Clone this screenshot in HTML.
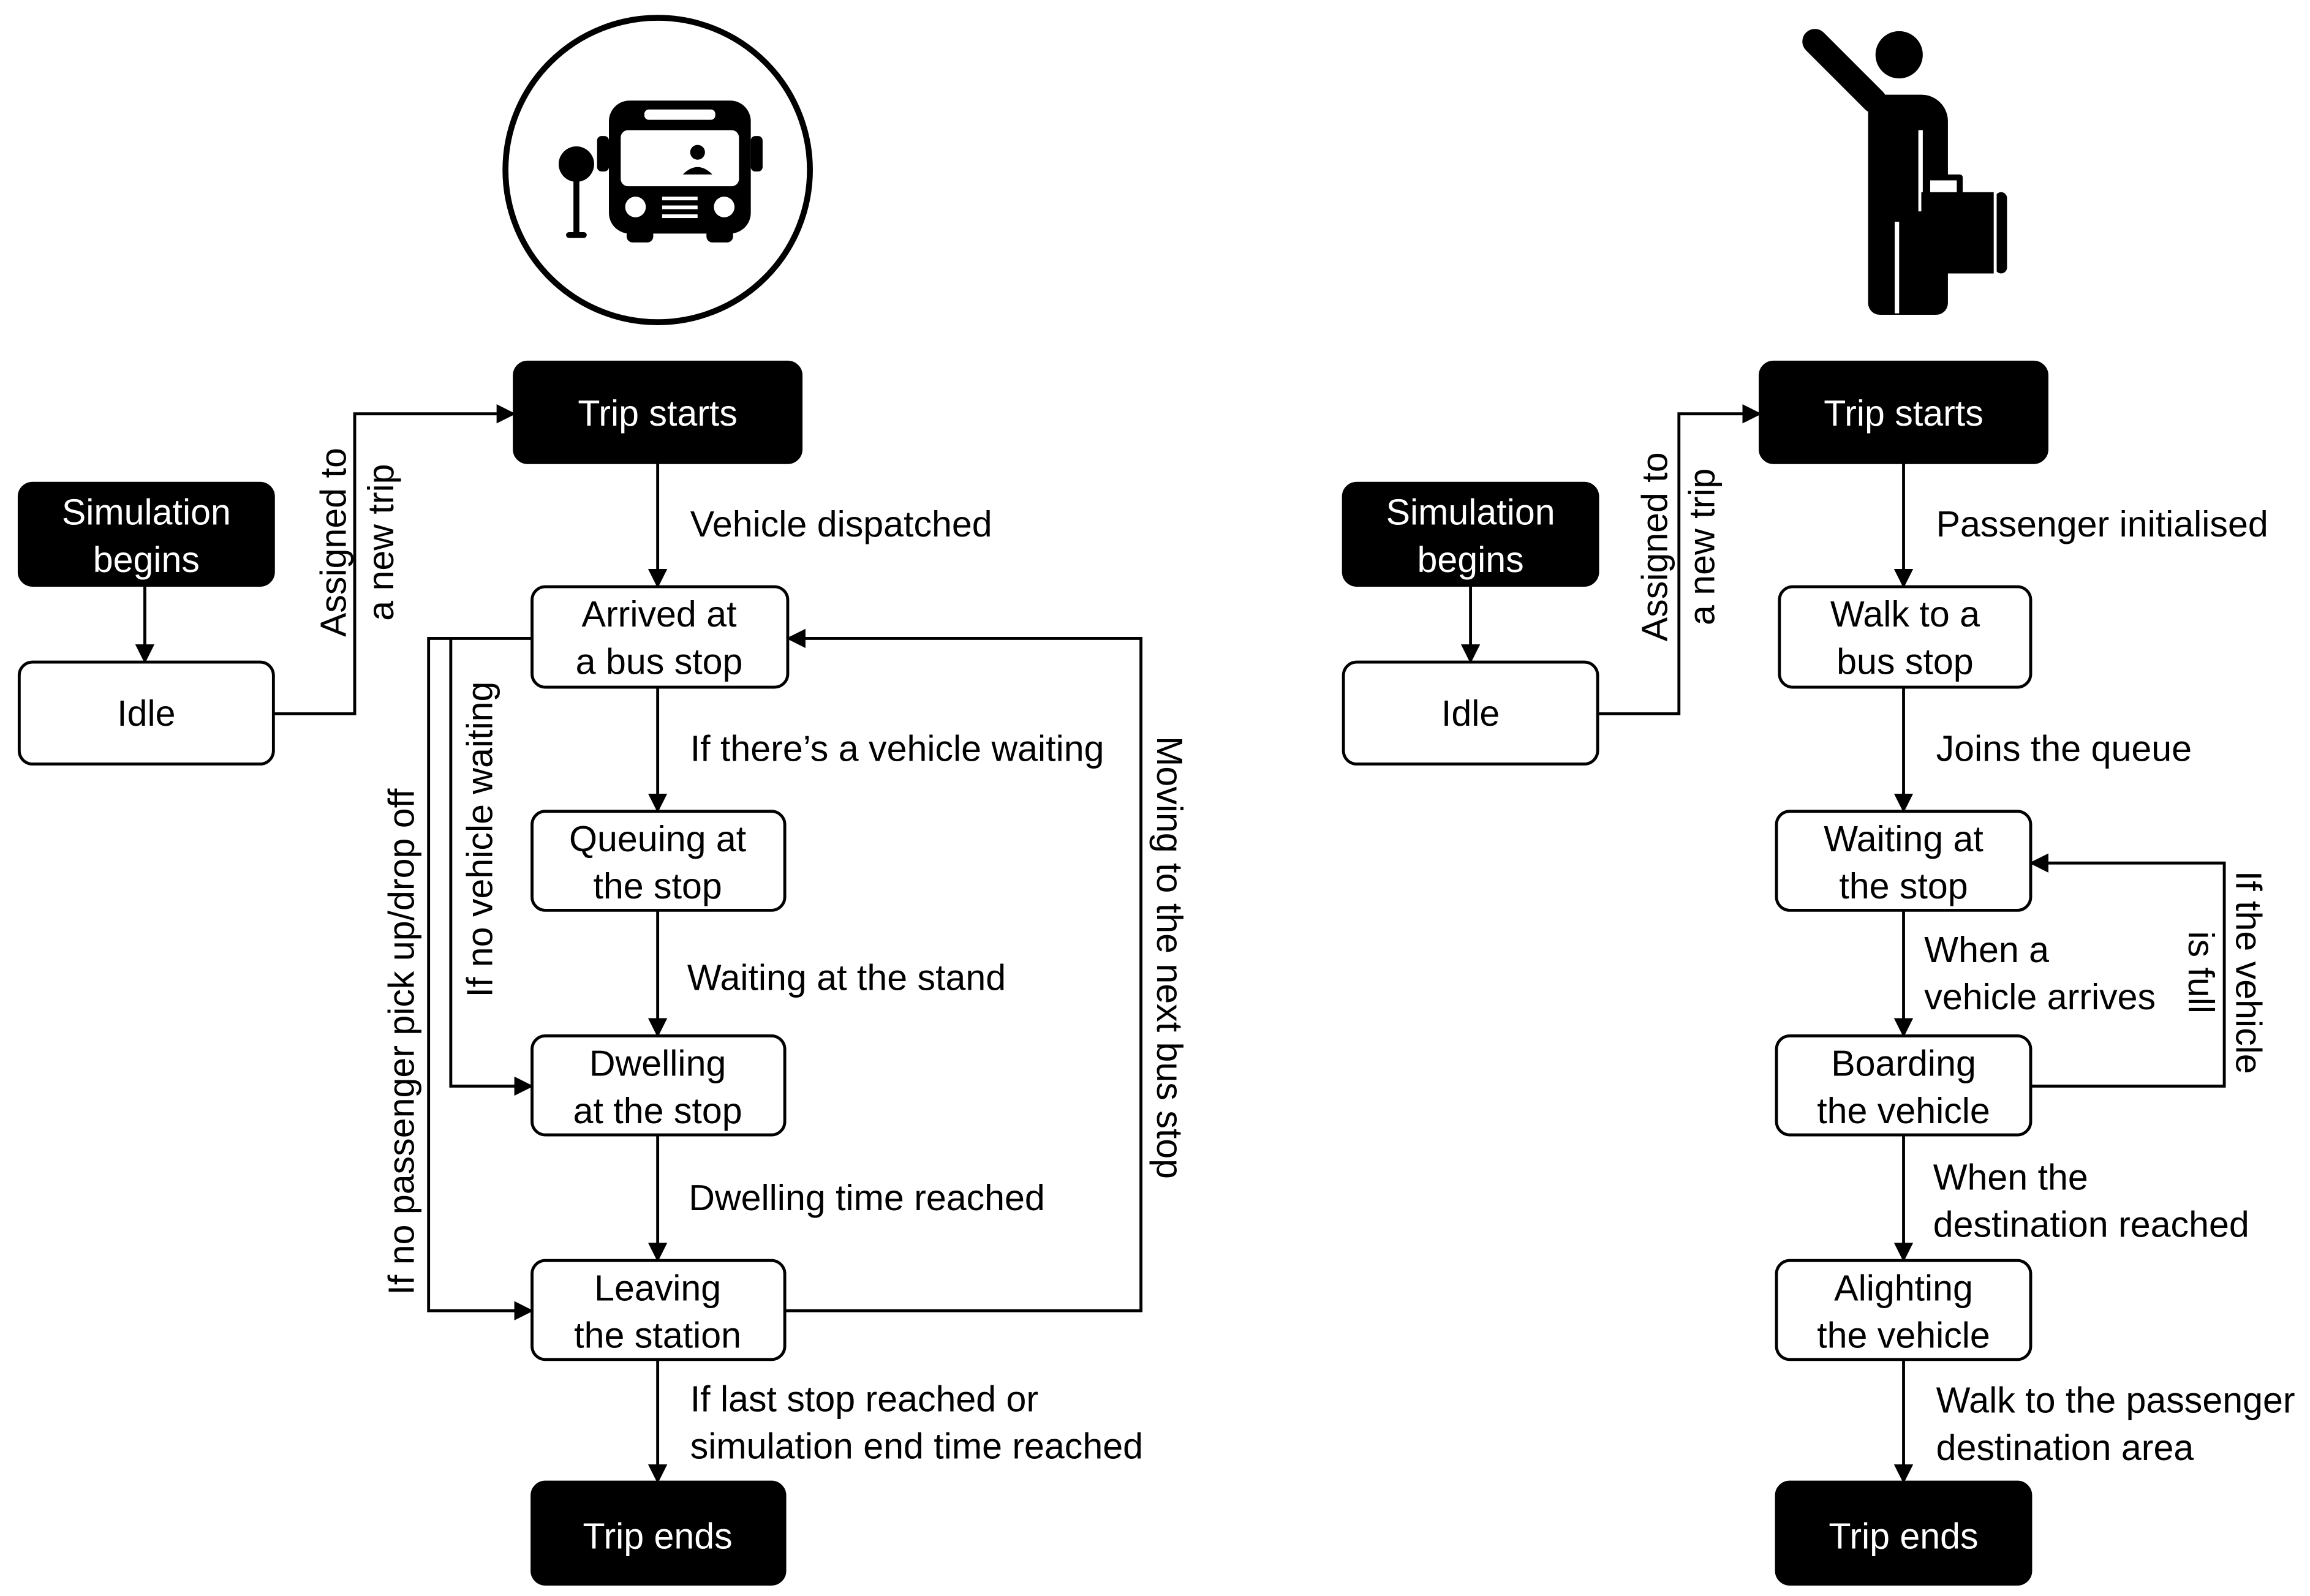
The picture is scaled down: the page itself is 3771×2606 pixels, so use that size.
<!DOCTYPE html>
<html><head><meta charset="utf-8"><style>html,body{margin:0;padding:0;background:#fff}svg{display:block}</style></head>
<body>
<svg width="3771" height="2606" viewBox="0 0 1563 1080" xmlns="http://www.w3.org/2000/svg" font-family="Liberation Sans, sans-serif" font-size="24.5">
<defs><marker id="a" markerWidth="13" markerHeight="13" refX="12" refY="6.5" orient="auto" markerUnits="userSpaceOnUse" viewBox="0 0 13 13"><path d="M0,0 L13,6.5 L0,13 z" fill="#000"/></marker></defs>
<rect width="1563" height="1080" fill="#fff"/>
<!-- bus icon -->
<ellipse cx="445" cy="115" rx="103" ry="103" fill="none" stroke="#000" stroke-width="4"/>
<circle cx="390" cy="111" r="12" fill="#000"/>
<rect x="388" y="115" width="4" height="44" fill="#000"/>
<rect x="383" y="157" width="14" height="4" rx="2" fill="#000"/>
<rect x="412" y="68" width="96" height="90" rx="14" fill="#000"/>
<rect x="424" y="154" width="18" height="10" rx="4" fill="#000"/>
<rect x="478" y="154" width="18" height="10" rx="4" fill="#000"/>
<rect x="404" y="92" width="8" height="24" rx="3" fill="#000"/><rect x="508" y="92" width="8" height="24" rx="3" fill="#000"/>
<rect x="436" y="74" width="48" height="7" rx="3" fill="#fff"/>
<rect x="420" y="88" width="80" height="38" rx="5" fill="#fff"/>
<circle cx="472" cy="103" r="5" fill="#000"/><path d="M462 118 q10 -10 20 0 z" fill="#000"/>
<circle cx="430" cy="140" r="7" fill="#fff"/><circle cx="490" cy="140" r="7" fill="#fff"/>
<rect x="448" y="133" width="24" height="2.5" fill="#fff"/><rect x="448" y="139" width="24" height="2.5" fill="#fff"/><rect x="448" y="145" width="24" height="2.5" fill="#fff"/>
<!-- person icon -->
<circle cx="1285" cy="37" r="16" fill="#000"/>
<line x1="1228" y1="28" x2="1268" y2="68" stroke="#000" stroke-width="17" stroke-linecap="round"/>
<path d="M1264 64 H1300 a18 18 0 0 1 18 18 V205 a8 8 0 0 1 -8 8 H1272 a8 8 0 0 1 -8 -8 z" fill="#000"/>
<rect x="1282" y="150" width="3" height="62" fill="#fff"/>
<rect x="1298" y="88" width="3" height="55" fill="#fff"/>
<rect x="1300" y="130" width="50" height="55" fill="#000"/>
<rect x="1350" y="130" width="8" height="55" rx="4" fill="#000"/>
<rect x="1349" y="130" width="2" height="55" fill="#fff"/>
<rect x="1302" y="118" width="26" height="14" rx="2" fill="#000"/><rect x="1306" y="122" width="18" height="8" fill="#fff"/>
<!-- boxes -->
<g stroke="#000" stroke-width="2">
<rect x="348" y="245" width="194" height="68" rx="9" fill="#000"/>
<rect x="13" y="327" width="172" height="69" rx="9" fill="#000"/>
<rect x="13" y="448" width="172" height="69" rx="9" fill="#fff"/>
<rect x="360" y="397" width="173" height="68" rx="9" fill="#fff"/>
<rect x="360" y="549" width="171" height="67" rx="9" fill="#fff"/>
<rect x="360" y="701" width="171" height="67" rx="9" fill="#fff"/>
<rect x="360" y="853" width="171" height="67" rx="9" fill="#fff"/>
<rect x="360" y="1003" width="171" height="69" rx="9" fill="#000"/>
<rect x="1191" y="245" width="194" height="68" rx="9" fill="#000"/>
<rect x="909" y="327" width="172" height="69" rx="9" fill="#000"/>
<rect x="909" y="448" width="172" height="69" rx="9" fill="#fff"/>
<rect x="1204" y="397" width="170" height="68" rx="9" fill="#fff"/>
<rect x="1202" y="549" width="172" height="67" rx="9" fill="#fff"/>
<rect x="1202" y="701" width="172" height="67" rx="9" fill="#fff"/>
<rect x="1202" y="853" width="172" height="67" rx="9" fill="#fff"/>
<rect x="1202" y="1003" width="172" height="69" rx="9" fill="#000"/>
</g>
<!-- connectors -->
<g stroke="#000" stroke-width="2" fill="none" marker-end="url(#a)">
<path d="M98 396 V448"/>
<path d="M185 483 H240 V280 H348"/>
<path d="M445 313 V397"/><path d="M445 465 V549"/><path d="M445 616 V701"/><path d="M445 768 V853"/><path d="M445 920 V1003"/>
<path d="M531 887 H772 V432 H533"/>
<path d="M360 432 H290 V887 H360"/>
<path d="M305 432 V735 H360"/>
<path d="M995 396 V448"/>
<path d="M1081 483 H1136 V280 H1191"/>
<path d="M1288 313 V397"/><path d="M1288 465 V549"/><path d="M1288 616 V701"/><path d="M1288 768 V853"/><path d="M1288 920 V1003"/>
<path d="M1374 735 H1505 V584 H1374"/>
</g>
<!-- box text -->
<g text-anchor="middle">
<text x="445" y="288" fill="#fff">Trip starts</text>
<text x="99" y="355" fill="#fff">Simulation</text><text x="99" y="387" fill="#fff">begins</text>
<text x="99" y="491">Idle</text>
<text x="446" y="424">Arrived at</text><text x="446" y="456">a bus stop</text>
<text x="445" y="576">Queuing at</text><text x="445" y="608">the stop</text>
<text x="445" y="728">Dwelling</text><text x="445" y="760">at the stop</text>
<text x="445" y="880">Leaving</text><text x="445" y="912">the station</text>
<text x="445" y="1048" fill="#fff">Trip ends</text>
<text x="1288" y="288" fill="#fff">Trip starts</text>
<text x="995" y="355" fill="#fff">Simulation</text><text x="995" y="387" fill="#fff">begins</text>
<text x="995" y="491">Idle</text>
<text x="1289" y="424">Walk to a</text><text x="1289" y="456">bus stop</text>
<text x="1288" y="576">Waiting at</text><text x="1288" y="608">the stop</text>
<text x="1288" y="728">Boarding</text><text x="1288" y="760">the vehicle</text>
<text x="1288" y="880">Alighting</text><text x="1288" y="912">the vehicle</text>
<text x="1288" y="1048" fill="#fff">Trip ends</text>
</g>
<!-- labels -->
<text x="467" y="363">Vehicle dispatched</text>
<text x="467" y="515">If there’s a vehicle waiting</text>
<text x="465" y="670">Waiting at the stand</text>
<text x="466" y="819">Dwelling time reached</text>
<text x="467" y="955">If last stop reached or</text><text x="467" y="987">simulation end time reached</text>
<text x="1310" y="363">Passenger initialised</text>
<text x="1310" y="515">Joins the queue</text>
<text x="1302" y="651">When a</text><text x="1302" y="683">vehicle arrives</text>
<text x="1308" y="805">When the</text><text x="1308" y="837">destination reached</text>
<text x="1310" y="956">Walk to the passenger</text><text x="1310" y="988">destination area</text>
<g text-anchor="middle">
<text transform="translate(234,367) rotate(-90)">Assigned to</text>
<text transform="translate(266,367) rotate(-90)">a new trip</text>
<text transform="translate(1128,370) rotate(-90)">Assigned to</text>
<text transform="translate(1160,370) rotate(-90)">a new trip</text>
<text transform="translate(280,705) rotate(-90)">If no passenger pick up/drop off</text>
<text transform="translate(333,568) rotate(-90)">If no vehicle waiting</text>
<text transform="translate(783,648) rotate(90)">Moving to the next bus stop</text>
<text transform="translate(1513,658) rotate(90)">If the vehicle</text>
<text transform="translate(1481,658) rotate(90)">is full</text>
</g>
</svg>
</body></html>
